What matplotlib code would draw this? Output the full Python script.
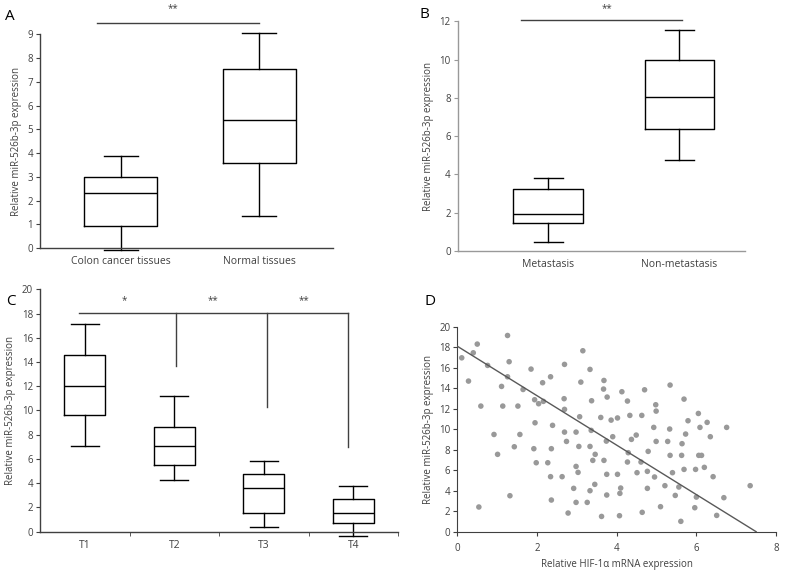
import numpy as np
import matplotlib
matplotlib.use("Agg")
import matplotlib.pyplot as plt

plt.rcParams['font.family'] = ['Open Sans', 'DejaVu Sans']

ylabel = "Relative miR-526b-3p expression"

# panel A
a_labels = ["Colon cancer tissues", "Normal tissues"]
a_whislo = [-0.07, 1.35]
a_q1 = [0.94, 3.59]
a_med = [2.32, 5.38]
a_q3 = [2.99, 7.56]
a_whishi = [3.89, 9.06]

# panel B
b_labels = ["Metastasis", "Non-metastasis"]
b_whislo = [0.45, 4.77]
b_q1 = [1.43, 6.36]
b_med = [1.90, 8.05]
b_q3 = [3.24, 9.97]
b_whishi = [3.82, 11.53]

# panel C
c_labels = ["T1", "T2", "T3", "T4"]
c_whislo = [7.07, 4.29, 0.39, -0.33]
c_q1 = [9.63, 5.47, 1.57, 0.74]
c_med = [12.05, 7.07, 3.58, 1.57]
c_q3 = [14.61, 8.67, 4.76, 2.70]
c_whishi = [17.17, 11.20, 5.80, 3.80]

# panel D scatter
hif = [0.11, 0.28, 0.40, 0.50, 0.59, 0.76, 1.26, 1.30, 1.11, 1.26, 1.14, 1.52,
       1.65, 1.85, 1.94, 2.04, 2.16, 2.14, 2.34, 1.95, 2.39, 2.68, 2.69, 2.69,
       3.15, 3.10, 3.33, 3.07, 3.37, 3.68, 3.67, 3.76, 3.60, 3.86, 4.02, 4.13,
       4.70, 5.34, 4.27, 4.98, 4.99, 5.69, 4.33, 4.63, 6.05, 5.79, 6.27, 4.93,
       5.33, 6.09, 6.76, 0.92, 1.57, 1.01, 1.43, 1.92, 2.36, 1.98, 2.27, 2.34,
       2.63, 2.69, 2.98, 2.74, 3.05, 3.33, 3.36, 3.46, 3.40, 3.68, 3.74, 3.90,
       2.98, 3.03, 3.75, 4.02, 3.45, 2.92, 3.33, 3.75, 4.08, 1.32, 2.36, 2.98,
       3.26, 0.54, 2.78, 3.62, 4.07, 4.37, 4.49, 5.73, 6.35, 4.99, 5.28, 5.64,
       4.29, 4.79, 5.34, 5.63, 6.06, 6.13, 4.27, 4.61, 4.51, 4.77, 4.95, 5.40,
       5.69, 5.98, 6.20, 6.42, 4.10, 4.77, 5.21, 5.56, 5.47, 6.00, 6.69, 7.35,
       5.10, 5.96, 4.64, 6.51, 5.61]
mir = [16.97, 14.70, 17.46, 18.31, 12.26, 16.23, 19.15, 16.59, 14.18, 15.12,
       12.26, 12.26, 13.88, 15.87, 12.88, 12.49, 12.72, 14.54, 15.12, 10.63,
       10.38, 12.98, 11.94, 16.33, 17.66, 14.60, 15.84, 11.22, 12.78, 14.76,
       13.92, 13.14, 11.15, 10.89, 11.10, 13.66, 13.85, 14.31, 12.75, 12.39,
       11.77, 12.94, 11.35, 11.35, 11.54, 10.83, 10.67, 10.18, 10.02, 10.18,
       10.18, 9.49, 9.49, 7.55, 8.29, 8.10, 8.10, 6.73, 6.73, 5.37, 5.37,
       9.72, 9.72, 8.81, 8.32, 8.32, 9.89, 7.55, 6.96, 6.96, 8.84, 9.27, 6.37,
       5.79, 5.60, 5.60, 4.62, 4.23, 4.00, 3.58, 3.74, 3.51, 3.09, 2.86, 2.86,
       2.41, 1.82, 1.49, 1.56, 9.01, 9.43, 9.53, 9.27, 8.81, 8.81, 8.59, 7.71,
       7.84, 7.45, 7.45, 7.45, 7.45, 6.80, 6.80, 5.76, 5.89, 5.34, 5.76, 6.08,
       6.08, 6.28, 5.37, 4.26, 4.23, 4.49, 4.36, 3.54, 3.38, 3.32, 4.49, 2.44,
       2.34, 1.89, 1.59, 1.01]
fit_x = [0.0, 7.5]
fit_y = [18.1, 0.0]

TXT = "#404040"
FS = 7


def stats(lo, q1, med, q3, hi):
    return [dict(whislo=a, q1=b, med=c, q3=d, whishi=e, fliers=[])
            for a, b, c, d, e in zip(lo, q1, med, q3, hi)]


def style_box_axes(ax, spine_color):
    for s in ("top", "right"):
        ax.spines[s].set_visible(False)
    for s in ("left", "bottom"):
        ax.spines[s].set_color(spine_color)
        ax.spines[s].set_linewidth(1.0)
    ax.tick_params(axis="y", direction="out", length=3, color=spine_color,
                   labelsize=FS, labelcolor=TXT, pad=2)
    ax.tick_params(axis="x", length=0, labelsize=FS + 0.5, labelcolor=TXT, pad=6)


def draw_box(ax, st, width, capw):
    props = dict(color="black", linewidth=1.0)
    art = ax.bxp(st, positions=range(1, len(st) + 1), widths=width,
                 capwidths=capw, showfliers=False,
                 boxprops=props, medianprops=props, whiskerprops=props,
                 capprops=props)
    for key in ("boxes", "medians", "whiskers", "caps"):
        for line in art[key]:
            line.set_clip_on(False)


fig = plt.figure(figsize=(7.85, 5.74), dpi=100)

# A
axA = fig.add_axes([0.051, 0.568, 0.373, 0.372])
draw_box(axA, stats(a_whislo, a_q1, a_med, a_q3, a_whishi), 0.53, 0.245)
axA.set_xlim(0.42, 2.53)
axA.set_ylim(0, 9)
axA.set_yticks(range(0, 10))
axA.set_xticks([1, 2], a_labels)
style_box_axes(axA, "#404040")
axA.set_ylabel(ylabel, fontsize=FS, color=TXT, labelpad=4)
axA.plot([0.83, 2.0], [9.5, 9.5], color="#404040", lw=1.0, clip_on=False)
axA.text(1.38, 9.85, "**", ha="center", va="bottom", fontsize=7, color=TXT)
fig.text(0.006, 0.985, "A", fontsize=11, va="top", color="black")

# B
axB = fig.add_axes([0.583, 0.563, 0.366, 0.400])
draw_box(axB, stats(b_whislo, b_q1, b_med, b_q3, b_whishi), 0.53, 0.22)
axB.set_xlim(0.31, 2.5)
axB.set_ylim(0, 12)
axB.set_yticks(range(0, 13, 2))
axB.set_xticks([1, 2], b_labels)
style_box_axes(axB, "#999999")
axB.set_ylabel(ylabel, fontsize=FS, color=TXT, labelpad=4)
axB.plot([0.79, 2.02], [12.04, 12.04], color="#404040", lw=1.0, clip_on=False)
axB.text(1.45, 12.35, "**", ha="center", va="bottom", fontsize=7, color=TXT)
fig.text(0.535, 0.988, "B", fontsize=11, va="top", color="black")

# C
axC = fig.add_axes([0.051, 0.0737, 0.456, 0.4223])
draw_box(axC, stats(c_whislo, c_q1, c_med, c_q3, c_whishi), 0.46, 0.31)
axC.set_xlim(0.5, 4.5)
axC.set_ylim(0, 20)
axC.set_yticks(range(0, 21, 2))
axC.set_xticks([1, 2, 3, 4], c_labels)
style_box_axes(axC, "#404040")
axC.set_xticks([1.5, 2.5, 3.5, 4.5], minor=True)
axC.tick_params(axis="x", which="minor", length=3, color="#404040", direction="out")
axC.set_ylabel(ylabel, fontsize=FS, color=TXT, labelpad=4)
axC.plot([0.93, 3.94], [18.05, 18.05], color="#404040", lw=1.0)
axC.plot([2.02, 2.02], [18.05, 13.67], color="#404040", lw=1.0)
axC.plot([3.04, 3.04], [18.05, 10.32], color="#404040", lw=1.0)
axC.plot([3.94, 3.94], [18.05, 7.0], color="#404040", lw=1.0)
for xs, s in zip([1.44, 2.43, 3.45], ["*", "**", "**"]):
    axC.text(xs, 18.6, s, ha="center", va="bottom", fontsize=7, color=TXT)
fig.text(0.008, 0.487, "C", fontsize=11, va="top", color="black")

# D
axD = fig.add_axes([0.5826, 0.0737, 0.406, 0.357])
axD.scatter(hif, mir, s=16, color="#999999", edgecolors="none", zorder=2)
axD.plot(fit_x, fit_y, color="#595959", lw=1.0, zorder=3)
axD.set_xlim(0, 8)
axD.set_ylim(0, 20)
axD.set_xticks(range(0, 9, 2))
axD.set_yticks(range(0, 21, 2))
for s in ("top", "right"):
    axD.spines[s].set_visible(False)
for s in ("left", "bottom"):
    axD.spines[s].set_color("#404040")
axD.tick_params(direction="out", length=3, color="#404040", labelsize=FS,
                labelcolor=TXT, pad=2)
axD.tick_params(axis="x", pad=5)
axD.set_ylabel(ylabel, fontsize=FS, color=TXT, labelpad=4)
axD.set_xlabel("Relative HIF-1\u03b1 mRNA expression", fontsize=FS, color=TXT,
               labelpad=4)
fig.text(0.541, 0.487, "D", fontsize=11, va="top", color="black")

fig.savefig("out.png", dpi=100)
